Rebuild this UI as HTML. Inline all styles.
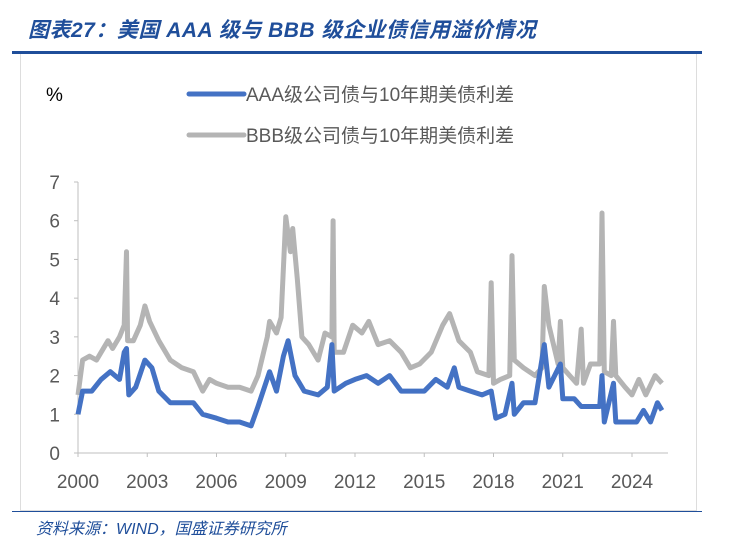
<!DOCTYPE html>
<html><head><meta charset="utf-8"><style>
body{margin:0;width:732px;height:554px;background:#fff;overflow:hidden;font-family:"Liberation Sans","Noto Sans CJK SC",sans-serif}
#title{position:absolute;left:28px;top:14px;font-size:21px;font-weight:bold;font-style:italic;color:#1F4E9A;letter-spacing:0.5px}
#rule{position:absolute;left:12px;top:51px;width:690px;height:3px;background:#1F4E9A}
#box{position:absolute;left:20px;top:54px;width:675px;height:456px;border:1px solid #ddd;border-top:none;background:#fff}
#src{position:absolute;left:36px;top:515px;font-size:16px;font-style:italic;color:#1F4E9A}
#bline{position:absolute;left:12px;top:511px;width:690px;height:1px;background:#1F4E9A}
</style></head><body>
<div id="title">图表27：美国 AAA 级与 BBB 级企业债信用溢价情况</div>
<div id="rule"></div>
<div id="box"></div>
<div id="bline"></div>
<div id="src">资料来源：WIND，国盛证券研究所</div>
<svg id="chart" width="732" height="554" style="position:absolute;left:0;top:0"></svg>
<script>
const yTicks=[0,1,2,3,4,5,6,7];
const xTicks=[2000,2003,2006,2009,2012,2015,2018,2021,2024];
const bbbYears=[2000.0,2000.2,2000.5,2000.8,2001.0,2001.3,2001.5,2001.8,2002.0,2002.1,2002.15,2002.4,2002.7,2002.9,2003.1,2003.5,2004.0,2004.5,2005.0,2005.4,2005.7,2006.0,2006.5,2007.0,2007.5,2007.8,2008.2,2008.3,2008.6,2008.8,2009.0,2009.2,2009.3,2009.5,2009.7,2010.0,2010.4,2010.7,2011.0,2011.05,2011.1,2011.5,2011.9,2012.3,2012.6,2013.0,2013.5,2014.0,2014.4,2014.8,2015.3,2015.8,2016.1,2016.5,2017.0,2017.3,2017.8,2017.9,2018.0,2018.3,2018.7,2018.8,2018.9,2019.3,2019.8,2020.1,2020.2,2020.4,2020.8,2020.9,2021.0,2021.3,2021.6,2021.8,2021.9,2022.2,2022.6,2022.7,2022.8,2023.1,2023.2,2023.3,2023.7,2024.0,2024.3,2024.6,2025.0,2025.3];
const bbbValues=[1.5,2.4,2.5,2.4,2.6,2.9,2.7,3.0,3.3,5.2,2.9,2.9,3.3,3.8,3.4,2.9,2.4,2.2,2.1,1.6,1.9,1.8,1.7,1.7,1.6,2.0,3.0,3.4,3.1,3.5,6.1,5.2,5.8,4.5,3.0,2.8,2.4,3.1,3.0,6.0,2.6,2.6,3.3,3.1,3.4,2.8,2.9,2.6,2.2,2.3,2.6,3.3,3.6,2.9,2.6,2.1,2.0,4.4,1.8,1.9,2.0,5.1,2.4,2.2,2.0,2.2,4.3,3.3,2.3,3.4,2.2,2.0,1.8,3.2,1.8,2.3,2.3,6.2,2.1,2.0,3.4,2.0,1.7,1.5,1.9,1.5,2.0,1.8];
const aaaYears=[2000.0,2000.2,2000.6,2001.0,2001.4,2001.8,2002.0,2002.1,2002.2,2002.5,2002.9,2003.2,2003.5,2004.0,2004.5,2005.0,2005.4,2006.0,2006.5,2007.0,2007.5,2007.8,2008.3,2008.6,2008.9,2009.1,2009.4,2009.8,2010.4,2010.8,2011.0,2011.1,2011.6,2012.0,2012.5,2013.0,2013.5,2014.0,2014.5,2015.0,2015.5,2016.0,2016.3,2016.5,2017.0,2017.5,2017.9,2018.1,2018.5,2018.8,2018.9,2019.3,2019.8,2020.2,2020.4,2020.9,2021.0,2021.5,2021.8,2022.2,2022.6,2022.7,2022.8,2023.2,2023.3,2023.8,2024.2,2024.5,2024.8,2025.1,2025.3];
const aaaValues=[1.0,1.6,1.6,1.9,2.1,1.9,2.6,2.7,1.5,1.7,2.4,2.2,1.6,1.3,1.3,1.3,1.0,0.9,0.8,0.8,0.7,1.2,2.1,1.6,2.5,2.9,2.0,1.6,1.5,1.7,2.8,1.6,1.8,1.9,2.0,1.8,2.0,1.6,1.6,1.6,1.9,1.7,2.2,1.7,1.6,1.5,1.6,0.9,1.0,1.8,1.0,1.3,1.3,2.8,1.7,2.3,1.4,1.4,1.2,1.2,1.2,2.0,0.8,1.8,0.8,0.8,0.8,1.1,0.8,1.3,1.1];
const NS="http://www.w3.org/2000/svg";
const svg=document.getElementById('chart');
const X=v=>78+(v-2000)*(632-78)/24;
const Y=v=>453-v*(453-182)/7;
function mk(t,a){const e=document.createElementNS(NS,t);for(const k in a)e.setAttribute(k,a[k]);svg.appendChild(e);return e;}
const ax=mk('line',{x1:X(2000),y1:Y(0),x2:X(2000),y2:Y(7),stroke:'#bfbfbf','stroke-width':1});


const bx=mk('line',{x1:X(2000),y1:Y(0),x2:668,y2:Y(0),stroke:'#bfbfbf','stroke-width':1});


yTicks.forEach(t=>{
 const tk=mk('line',{x1:X(2000)-4,x2:X(2000),y1:Y(t),y2:Y(t),stroke:'#bfbfbf'});
 
 
 const tx=mk('text',{x:X(2000)-18,y:Y(t)+7,'text-anchor':'end','font-size':19,fill:'#595959'});
 tx.textContent=t;
 
 
});
xTicks.forEach(t=>{
 const tk=mk('line',{x1:X(t),x2:X(t),y1:Y(0),y2:Y(0)+4,stroke:'#bfbfbf'});
 
 
 const tx=mk('text',{x:X(t),y:488,'text-anchor':'middle','font-size':19,fill:'#595959'});
 tx.textContent=t;
 
 
});
function series(xs,vs,c,n){
 const d=xs.map((x,i)=>(i?'L':'M')+X(x).toFixed(1)+','+Y(vs[i]).toFixed(1)).join('');
 const p=mk('path',{d:d,fill:'none',stroke:c,'stroke-width':5,'stroke-linejoin':'round'});
 
 
}
series(bbbYears,bbbValues,'#B4B4B4','bbb-spread-line');
series(aaaYears,aaaValues,'#4472C4','aaa-spread-line');
const pc=mk('text',{x:46,y:101,'font-size':19,fill:'#000'});
pc.textContent='%';


[['#4472C4','AAA级公司债与10年期美债利差',94,'legend-entry-aaa'],['#B4B4B4','BBB级公司债与10年期美债利差',135,'legend-entry-bbb']].forEach(l=>{
 const g=document.createElementNS(NS,'g');svg.appendChild(g);
 
 
 const ln=document.createElementNS(NS,'line');
 ln.setAttribute('x1',189);ln.setAttribute('x2',244);ln.setAttribute('y1',l[2]);ln.setAttribute('y2',l[2]);
 ln.setAttribute('stroke',l[0]);ln.setAttribute('stroke-width',5);ln.setAttribute('stroke-linecap','round');
 
 
 g.appendChild(ln);
 const t=document.createElementNS(NS,'text');
 t.setAttribute('x',246);t.setAttribute('y',l[2]+7);t.setAttribute('font-size',19);t.setAttribute('fill','#595959');
 t.textContent=l[1];
 
 
 g.appendChild(t);
});
</script>
</body></html>
